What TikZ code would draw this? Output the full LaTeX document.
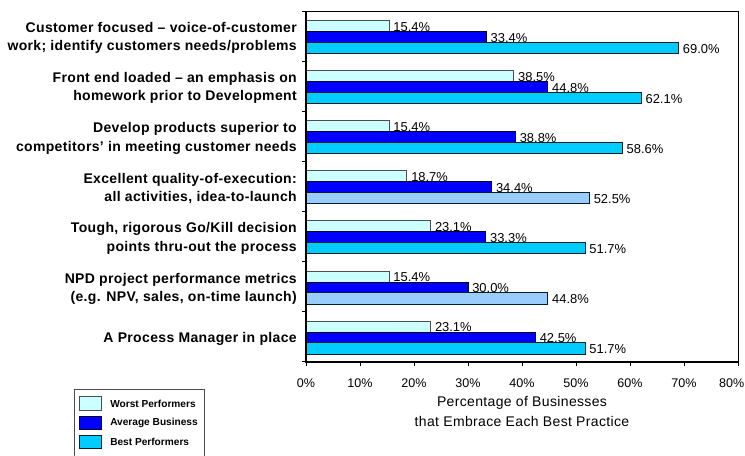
\documentclass[tikz,border=0pt]{standalone}
\usepackage{fontspec}
\setmainfont{Liberation Sans}
\newfontfamily\spacedfont[LetterSpace=2.5]{Liberation Sans}
\definecolor{worstfill}{HTML}{CCFFFF}
\definecolor{avgfill}{HTML}{0000FF}
\definecolor{bestfill}{HTML}{00CCFF}
\definecolor{palefill}{HTML}{99CCFF}

\begin{document}
\begin{tikzpicture}[x=0.75pt, y=-0.75pt,
    bar/.style={line width=0.75pt},
    catlab/.style={anchor=east, align=right, inner sep=0pt,
      font=\spacedfont\bfseries\fontsize{10.5}{13.7}\selectfont},
    vallab/.style={anchor=base west, inner sep=0pt,
      font=\fontsize{9.7}{11}\selectfont},
    ticklab/.style={anchor=base, inner sep=0pt,
      font=\fontsize{9.4}{11}\selectfont},
    legtext/.style={anchor=west, inner sep=0pt,
      font=\bfseries\fontsize{7.6}{9}\selectfont}]
  \clip (0,0) rectangle (745,455);
  \fill[white] (0,0) rectangle (745,455);
  % bars, three per practice
  \foreach \w/\a/\b/\bc [count = \i] in {15.4/33.4/69.0/bestfill,
      38.5/44.8/62.1/bestfill, 15.4/38.8/58.6/bestfill,
      18.7/34.4/52.5/palefill, 23.1/33.3/51.7/bestfill,
      15.4/30.0/44.8/palefill, 23.1/42.5/51.7/bestfill}{
    \pgfmathsetmacro\ctop{11+50.1*(\i-1)}
    \draw[bar, draw=black!70, fill=worstfill] (306,\ctop+9.5) rectangle ({306+5.4*\w},\ctop+20.5);
    \draw[bar, draw=black!85!blue, fill=avgfill] (306,\ctop+20.5) rectangle ({306+5.4*\a},\ctop+31.3);
    \draw[bar, draw=black!75!teal, fill=\bc] (306,\ctop+31.3) rectangle ({306+5.4*\b},\ctop+42.5);
    \node[vallab] (w\i) at ({310+5.4*\w},\ctop+20.3) {\w\%};
    \node[vallab] (a\i) at ({310+5.4*\a},\ctop+31.1) {\a\%};
    \node[vallab] (b\i) at ({310+5.4*\b},\ctop+42.3) {\b\%};
  }
  % frame and axes
  \draw[line width=0.75pt] (306,11) -- (738,11) -- (738,362);
  \draw[line width=1pt] (306,11) -- (306,362) -- (738,362);
  \foreach \j in {0,...,7}
    \draw[line width=0.75pt] (302,{11+50.1*\j}) -- (306,{11+50.1*\j});
  \foreach \pc [count = \k from 0] in {0,10,...,70}{
    \draw[line width=0.75pt] ({306+54*\k},362) -- ({306+54*\k},366);
    \node[ticklab] (t\k) at ({306+54*\k},387) {\pc\%};
  }
  \draw[line width=0.75pt] (738,362) -- (738,366);
  \node[ticklab, anchor=base east] (t8) at (744.5,387) {80\%};
  \node[anchor=north, align=center, inner sep=0pt,
    font=\spacedfont\fontsize{10.5}{15}\selectfont] (xtitle) at (522,396.5)
    {Percentage of Businesses\\that Embrace Each Best Practice};
  % practice labels
  \node[catlab] (lab1) at (297,38.1) {Customer focused – voice-of-customer\\work; identify customers needs/problems};
  \node[catlab] (lab2) at (297,88.2) {Front end loaded – an emphasis on\\homework prior to Development};
  \node[catlab] (lab3) at (297,138.3) {Develop products superior to\\competitors’ in meeting customer needs};
  \node[catlab] (lab4) at (297,188.4) {Excellent quality-of-execution:\\all activities, idea-to-launch};
  \node[catlab] (lab5) at (297,238.5) {Tough, rigorous Go/Kill decision\\points thru-out the process};
  \node[catlab] (lab6) at (297,288.6) {NPD project performance metrics\\(e.g. NPV, sales, on-time launch)};
  \node[catlab] (lab7) at (297,338.7) {A Process Manager in place};
  % legend
  \draw[line width=0.75pt, draw=black!70] (74,389) rectangle (204,470);
  \draw[bar, draw=black!70, fill=worstfill] (79,396.7) rectangle (101,410);
  \draw[bar, draw=black!85!blue, fill=avgfill] (79,416) rectangle (101,429.3);
  \draw[bar, draw=black!75!teal, fill=bestfill] (79,435) rectangle (101,448.3);
  \node[legtext] (leg1) at (110,403.4) {Worst Performers};
  \node[legtext] (leg2) at (110,422.7) {Average Business};
  \node[legtext] (leg3) at (110,441.7) {Best Performers};
\end{tikzpicture}
\end{document}
